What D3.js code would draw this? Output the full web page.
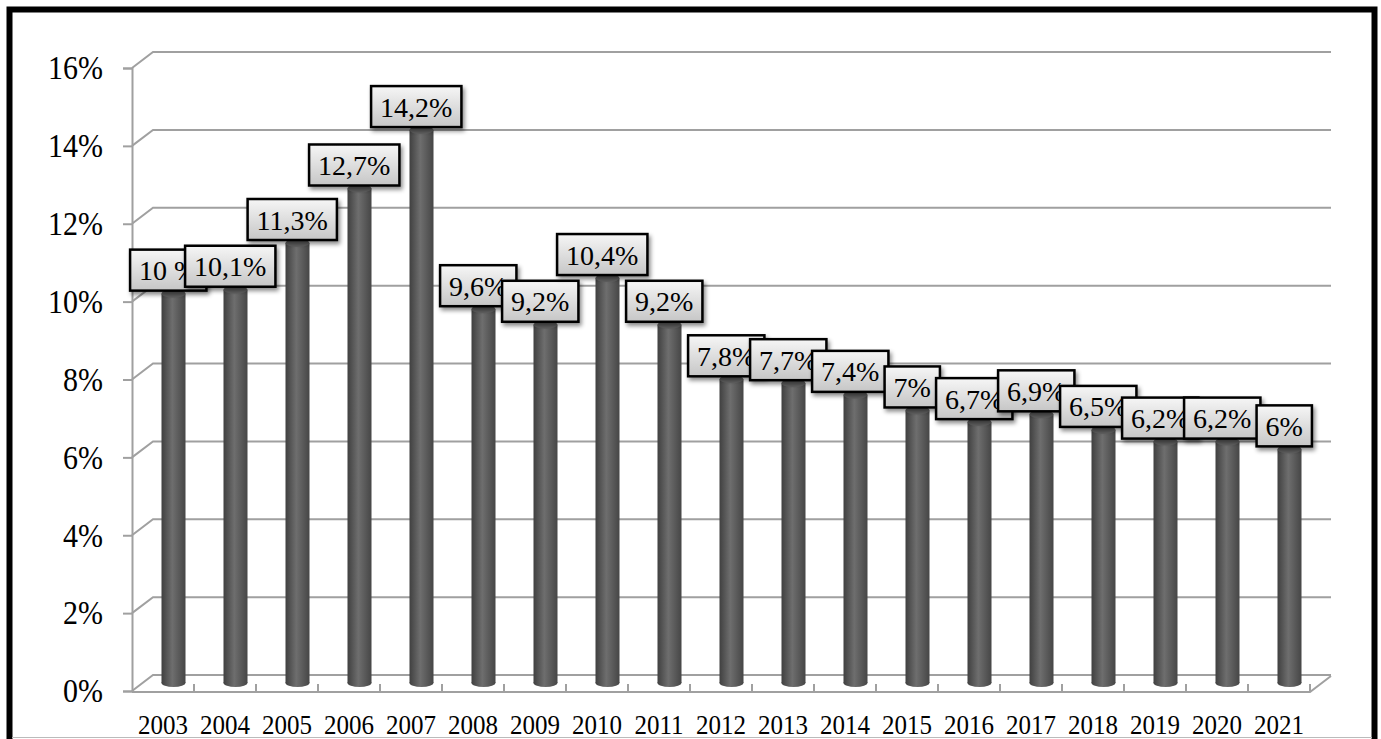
<!DOCTYPE html>
<html>
<head>
<meta charset="utf-8">
<script src="https://cdn.jsdelivr.net/npm/d3@7"></script>
<style>
  body { margin: 0; background: #fff; }
  svg { display: block; font-family: "Liberation Serif", "Times New Roman", serif; }
</style>
</head>
<body>
<svg id="chart" width="1381" height="739"></svg>
<script>
// data
var years = ["2003","2004","2005","2006","2007","2008","2009","2010","2011","2012",
             "2013","2014","2015","2016","2017","2018","2019","2020","2021"];
var values = [10, 10.1, 11.3, 12.7, 14.2, 9.6, 9.2, 10.4, 9.2, 7.8,
              7.7, 7.4, 7, 6.7, 6.9, 6.5, 6.2, 6.2, 6];
var valueLabels = ["10 %","10,1%","11,3%","12,7%","14,2%","9,6%","9,2%","10,4%","9,2%","7,8%",
                   "7,7%","7,4%","7%","6,7%","6,9%","6,5%","6,2%","6,2%","6%"];
var yTicks = [0, 2, 4, 6, 8, 10, 12, 14, 16];

var svg = d3.select("#chart");
var serif = "'Liberation Serif', 'Times New Roman', serif";

// depth of the 3d box
var depthX = 21, depthY = -16;

var x = d3.scaleBand().domain(years).range([132, 1310]).padding(0);
var y = d3.scaleLinear().domain([0, 16]).range([691, 68]);

var defs = svg.append("defs");
var barGrad = defs.append("linearGradient").attr("id", "barGrad")
  .attr("x1", "0").attr("x2", "1").attr("y1", "0").attr("y2", "0");
barGrad.append("stop").attr("offset", "0").attr("stop-color", "#404040");
barGrad.append("stop").attr("offset", "0.45").attr("stop-color", "#6e6e6e");
barGrad.append("stop").attr("offset", "1").attr("stop-color", "#464646");

var boxGrad = defs.append("linearGradient").attr("id", "boxGrad")
  .attr("x1", "0").attr("x2", "0").attr("y1", "0").attr("y2", "1");
boxGrad.append("stop").attr("offset", "0").attr("stop-color", "#f6f6f6");
boxGrad.append("stop").attr("offset", "1").attr("stop-color", "#c6c6c6");

var shadow = defs.append("filter").attr("id", "shadow")
  .attr("x", "-20%").attr("y", "-20%").attr("width", "150%").attr("height", "160%");
shadow.append("feDropShadow").attr("dx", 2).attr("dy", 3).attr("stdDeviation", 2)
  .attr("flood-color", "#000").attr("flood-opacity", 0.45);

// outer frame
svg.append("rect").attr("x", 9.5).attr("y", 9.5).attr("width", 1365).attr("height", 780)
  .attr("fill", "none").attr("stroke", "#000").attr("stroke-width", 6);
svg.append("line").attr("x1", 12).attr("x2", 1372).attr("y1", 737.5).attr("y2", 737.5)
  .attr("stroke", "#bbb").attr("stroke-width", 1);

var x0 = x.range()[0], x1 = x.range()[1];
var gridColor = "#a0a0a0";

// side wall + back wall gridlines
var grid = svg.append("g");
yTicks.forEach(function(t){
  var yy = y(t);
  grid.append("path")
    .attr("d", "M" + x0 + "," + yy + "L" + (x0 + depthX) + "," + (yy + depthY) + "L" + (x1 + depthX) + "," + (yy + depthY))
    .attr("fill", "none").attr("stroke", gridColor).attr("stroke-width", 2);
});

// floor
var y0 = y(0) + 1;
grid.append("path")
  .attr("d", "M" + x0 + "," + y0 + "L" + x1 + "," + y0 + "L" + (x1 + depthX) + "," + (y0 + depthY))
  .attr("fill", "none").attr("stroke", gridColor).attr("stroke-width", 2);
var edges = years.map(function(d){ return x(d); }).concat([x1]);
grid.selectAll(".ftick").data(edges.slice(1)).enter().append("line")
  .attr("x1", function(d){ return d; }).attr("x2", function(d){ return d; })
  .attr("y1", y0 - 8).attr("y2", y0)
  .attr("stroke", gridColor).attr("stroke-width", 2);

// y axis
var yAxis = svg.append("g").attr("transform", "translate(" + x0 + ",0)")
  .call(d3.axisLeft(y).tickValues(yTicks).tickSize(9).tickPadding(20)
    .tickFormat(function(d){ return d + "%"; }));
yAxis.attr("font-family", serif);
yAxis.select(".domain").attr("stroke", gridColor).attr("stroke-width", 2);
yAxis.selectAll(".tick line").attr("stroke", gridColor).attr("stroke-width", 2);
yAxis.selectAll(".tick text").attr("font-size", "30px").attr("fill", "#000")
  .attr("transform", "scale(1,1.12)");

// x axis labels
var xAxis = svg.append("g").attr("transform", "translate(0," + y0 + ")")
  .call(d3.axisBottom(x).tickSize(0).tickPadding(21));
xAxis.attr("font-family", serif);
xAxis.select(".domain").remove();
xAxis.selectAll(".tick text").attr("font-size", "25px").attr("fill", "#000")
  .attr("transform", "scale(1,1.08)");

// cylinders
var bw = 24, ry = 4;
var bars = svg.append("g");
years.forEach(function(yr, i){
  var cx = x(yr) + x.bandwidth() / 2 + depthX / 2;
  var base = y(0) + depthY / 2;
  var top = y(values[i]) + depthY / 2;
  var g = bars.append("g");
  g.append("ellipse").attr("cx", cx).attr("cy", base).attr("rx", bw / 2).attr("ry", ry)
    .attr("fill", "url(#barGrad)");
  g.append("rect").attr("x", cx - bw / 2).attr("y", top).attr("width", bw).attr("height", base - top)
    .attr("fill", "url(#barGrad)");
  g.append("ellipse").attr("cx", cx).attr("cy", top).attr("rx", bw / 2).attr("ry", ry)
    .attr("fill", "#626262");
});

// value labels, later ones over earlier ones
var labels = svg.append("g").attr("font-family", serif);
years.forEach(function(yr, i){
  var cx = x(yr) + x.bandwidth() / 2 + depthX / 4;
  var bottom = y(values[i]) + depthY / 2 - 3;
  var g = labels.append("g");
  var box = g.append("rect");
  var txt = g.append("text").text(valueLabels[i])
    .attr("x", cx).attr("y", bottom - 41 + 30.5)
    .attr("text-anchor", "middle").attr("font-size", "28px").attr("fill", "#000");
  var w = txt.node().getComputedTextLength() + 18;
  box.attr("x", cx - w / 2).attr("y", bottom - 41).attr("width", w).attr("height", 41)
    .attr("fill", "url(#boxGrad)").attr("stroke", "#000").attr("stroke-width", 2.5)
    .attr("filter", "url(#shadow)");
});
</script>
</body>
</html>
